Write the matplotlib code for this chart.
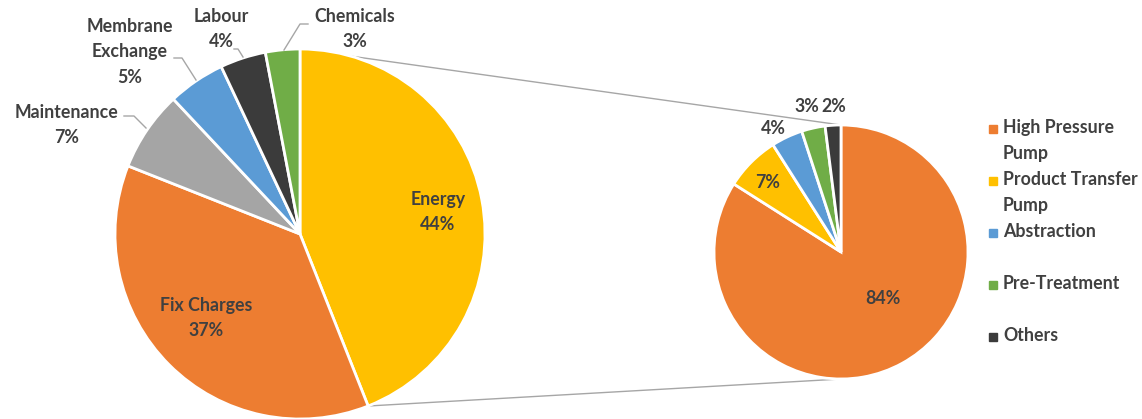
import numpy as np
import matplotlib
matplotlib.use("Agg")
from matplotlib import pyplot as plt

# main pie
main_labels = ["Energy", "Fix Charges", "Maintenance", "Membrane\nExchange", "Labour", "Chemicals"]
main_values = [44, 37, 7, 5, 4, 3]
main_colors = ["#FFC000", "#ED7D31", "#A5A5A5", "#5B9BD5", "#3B3B3B", "#70AD47"]

# energy breakdown
sub_labels = ["High Pressure\nPump", "Product Transfer\nPump", "Abstraction", "Pre-Treatment", "Others"]
sub_values = [84, 7, 4, 3, 2]
sub_colors = ["#ED7D31", "#FFC000", "#5B9BD5", "#70AD47", "#3B3B3B"]

W, H = 1142, 419
TXT = "#404040"
plt.rcParams["font.family"] = ["Lato", "DejaVu Sans"]
plt.rcParams["font.weight"] = "bold"


def Y(y):
    # pixel row (from top) -> data y
    return H - y


fig = plt.figure(figsize=(W / 100, H / 100), dpi=100)
ax = fig.add_axes([0, 0, 1, 1])

c1, r1 = (300, Y(234)), 185
c2, r2 = (841, Y(252)), 127

ax.pie(main_values, colors=main_colors, startangle=90, counterclock=False,
       center=c1, radius=r1, frame=True,
       wedgeprops=dict(edgecolor="white", linewidth=2))
ax.pie(sub_values, colors=sub_colors, startangle=90, counterclock=False,
       center=c2, radius=r2, frame=True,
       wedgeprops=dict(edgecolor="white", linewidth=2))
ax.set_xlim(0, W)
ax.set_ylim(0, H)
ax.set_aspect("equal")
ax.axis("off")

# connector lines from energy slice to the second pie
a_end = np.deg2rad(90 - 360 * main_values[0] / sum(main_values))
ax.plot([c1[0], c2[0]], [c1[1] + r1, c2[1] + r2], color="#A6A6A6", lw=1, zorder=0)
ax.plot([c1[0] + r1 * np.cos(a_end), c2[0]], [c1[1] + r1 * np.sin(a_end), c2[1] - r2],
        color="#A6A6A6", lw=1, zorder=0)

fs = 12.8
ls = 1.62
main_pos = [(438, 212), (206, 318), (67, 125), (130, 52), (221, 29), (355, 29)]
for lab, v, (x, y) in zip(main_labels, main_values, main_pos):
    ax.text(x, Y(y), f"{lab}\n{v}%", ha="center", va="center", fontsize=fs,
            color=TXT, linespacing=ls)

# leader lines
leaders = [
    [(146, 128), (134, 116), (124, 116)],
    [(196, 80), (182, 58), (174, 58)],
    [(243, 57), (238, 49), (234, 49)],
    [(284, 50), (300, 24), (308, 24)],
]
for pts in leaders:
    xs, ys = zip(*pts)
    ax.plot(xs, [Y(v) for v in ys], color="#A6A6A6", lw=1)

sub_pos = [(883, 299), (768, 182), (773, 128), (807, 107), (834, 107)]
for v, (x, y) in zip(sub_values, sub_pos):
    ax.text(x, Y(y), f"{v}%", ha="center", va="center", fontsize=fs, color=TXT)

# legend
for i, (lab, col) in enumerate(zip(sub_labels, sub_colors)):
    y = 129 + 52 * i
    ax.plot(993, Y(y), marker="s", ms=6, color=col, ls="none")
    ax.text(1003, Y(y - 10), lab, ha="left", va="top", fontsize=fs, color=TXT,
            linespacing=ls)

fig.savefig("out.png", dpi=100)
